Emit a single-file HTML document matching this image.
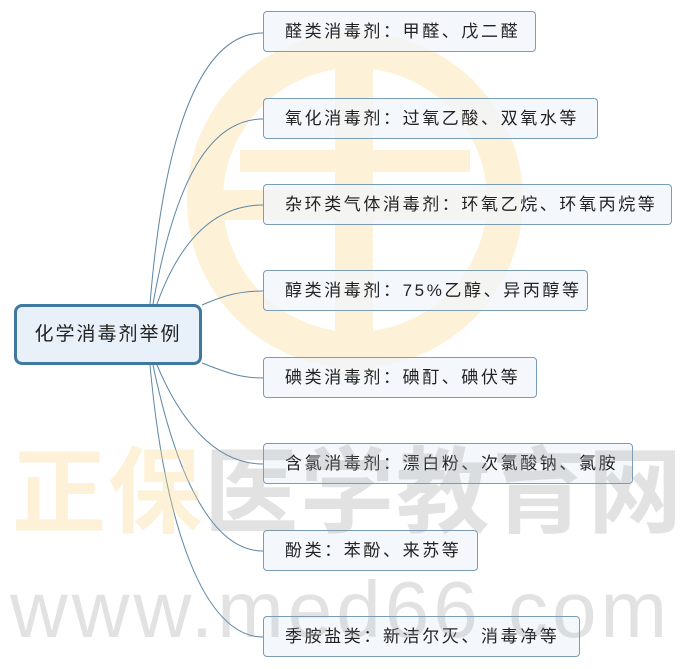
<!DOCTYPE html>
<html><head><meta charset="utf-8"><style>
html,body{margin:0;padding:0;background:#fff;width:683px;height:669px;overflow:hidden;position:relative;font-family:"Liberation Sans","Noto Sans CJK SC",sans-serif}
.box{position:absolute;left:263px;height:41px;border:1px solid #7a9cb6;border-radius:4px;background:rgba(240,246,252,0.75);box-sizing:border-box;font-size:17px;color:#222;line-height:39px;padding-left:21px;letter-spacing:2.6px;white-space:nowrap}
.root{position:absolute;left:14px;top:304px;width:188px;height:61px;border:3px solid #3f78a0;border-radius:8px;background:#e8f0fa;box-sizing:border-box;font-size:19px;color:#222;text-align:center;line-height:55px;letter-spacing:2px}
.wm{position:absolute;white-space:nowrap;pointer-events:none}
</style></head><body>
<svg width="683" height="669" style="position:absolute;left:0;top:0">
<circle cx="355" cy="200" r="150" fill="none" stroke="#fdf1d8" stroke-width="36"/>
<rect x="335" y="45" width="38" height="330" fill="#fdf1d8"/>
<rect x="195" y="190" width="320" height="30" fill="#fdf1d8"/>
<rect x="240" y="150" width="230" height="22" fill="#fdf1d8"/>
<g fill="none" stroke="#5d86a6" stroke-width="1">
<path d="M150,304 C165,120 205,33 263,33"/>
<path d="M153,304 C175,180 210,119 263,119"/>
<path d="M157,304 C180,240 215,205 263,205"/>
<path d="M202,305 C225,295 240,291 263,291"/>
<path d="M202,363 C225,372 240,378 263,378"/>
<path d="M157,365 C180,420 215,464 263,464"/>
<path d="M153,365 C175,470 210,551 263,551"/>
<path d="M150,365 C165,530 205,637 263,637"/>
</g>
</svg>
<div class="root">化学消毒剂举例</div>
<div class="box" style="top:11px;width:273px">醛类消毒剂：甲醛、戊二醛</div>
<div class="box" style="top:98px;width:335px">氧化消毒剂：过氧乙酸、双氧水等</div>
<div class="box" style="top:184px;width:409px">杂环类气体消毒剂：环氧乙烷、环氧丙烷等</div>
<div class="box" style="top:270px;width:325px">醇类消毒剂：75%乙醇、异丙醇等</div>
<div class="box" style="top:357px;width:274px">碘类消毒剂：碘酊、碘伏等</div>
<div class="box" style="top:443px;width:370px">含氯消毒剂：漂白粉、次氯酸钠、氯胺</div>
<div class="box" style="top:530px;width:215px">酚类：苯酚、来苏等</div>
<div class="box" style="top:616px;width:317px">季胺盐类：新洁尔灭、消毒净等</div>
<div class="wm" style="left:12px;top:438px;font-size:94px;line-height:110px;font-weight:bold;color:rgba(250,215,140,0.35);letter-spacing:2px">正保<span style="color:rgba(150,150,150,0.28)">医学教育网</span></div>
<div class="wm" style="left:10px;top:565px;font-size:80px;line-height:90px;color:rgba(150,150,150,0.28);letter-spacing:4px">www.med66.com</div>
</body></html>
